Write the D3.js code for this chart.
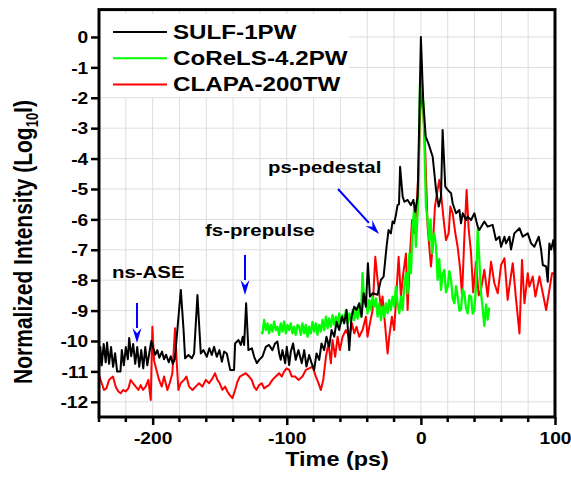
<!DOCTYPE html>
<html><head><meta charset="utf-8">
<script src="https://cdnjs.cloudflare.com/ajax/libs/d3/7.8.5/d3.min.js"></script>
<style>
body{margin:0;background:#fff;}
svg{display:block;}
text{font-family:"Liberation Sans",Arial,sans-serif;font-weight:bold;fill:#000;}
</style>
</head><body>
<svg id="c" width="571" height="478"></svg>
<script>
// ---- data (time in ps, log10 intensity) ----
const sulf = [[-240,-10.9],[-239,-10.2],[-238,-10.8],[-236.5,-10.1],[-235,-10.7],[-234,-10.05],[-232.5,-10.75],[-231,-10.2],[-229.5,-10.85],[-228,-10.4],[-226.5,-11.0],[-224,-11.0],[-223,-10.3],[-221.5,-10.8],[-220,-10.2],[-218.5,-10.6],[-217.5,-9.9],[-216,-10.5],[-214.5,-10.1],[-213,-10.75],[-211.5,-10.2],[-210,-10.85],[-208.5,-10.3],[-207,-10.9],[-205.5,-10.2],[-204,-10.8],[-202.5,-10.4],[-201,-10.0],[-199.5,-10.25],[-198,-10.45],[-196.5,-10.3],[-195,-10.55],[-193,-10.35],[-191.5,-10.6],[-190,-10.45],[-188,-10.7],[-186.5,-10.5],[-185,-10.75],[-183.5,-10.6],[-181.5,-9.6],[-179,-8.32],[-177,-9.6],[-175.8,-10.57],[-173.3,-10.46],[-170.8,-10.57],[-169.1,-10.41],[-166.6,-8.49],[-164.1,-10.41],[-162.1,-10.3],[-159.6,-10.52],[-157.7,-10.24],[-155.9,-10.46],[-154.2,-10.19],[-152.2,-10.52],[-150.2,-10.3],[-148.4,-10.68],[-146.7,-10.35],[-144.7,-10.41],[-142.2,-10.95],[-139.3,-10.95],[-138.5,-10.08],[-136,-9.97],[-134.3,-10.13],[-132.8,-9.86],[-131.8,-10.13],[-130.3,-8.76],[-128.6,-10.3],[-126,-10.24],[-124.3,-10.52],[-122.3,-10.73],[-120.6,-10.62],[-118.1,-10.51],[-115.6,-10.19],[-113.2,-10.13],[-110.7,-10.3],[-108.7,-10.08],[-107,-10.02],[-105.7,-10.4],[-104.5,-10.62],[-103.2,-10.3],[-101.2,-10.73],[-100,-10.19],[-98.2,-10.79],[-97,-10.35],[-95.3,-10.08],[-93.3,-10.62],[-91.3,-10.3],[-88.8,-10.73],[-87,-10.3],[-85.3,-10.84],[-83.3,-10.46],[-81.5,-10.73],[-79.6,-10.95],[-77.8,-10.41],[-75.8,-10.62],[-74.1,-10.08],[-72.1,-10.3],[-70.4,-9.86],[-68.4,-10.19],[-66.6,-9.64],[-64.6,-9.86],[-62.9,-9.37],[-60.9,-9.64],[-58.9,-9.2],[-57.2,-9.42],[-55.4,-8.98],[-53.4,-10.3],[-51.7,-9.2],[-49.7,-8.87],[-48,-8.98],[-46,-8.76],[-44.2,-9.2],[-42.7,-8.43],[-41,-8.87],[-39.5,-7.44],[-38,-8.54],[-36,-8.43],[-32.3,-8.48],[-29.8,-7.99],[-27.8,-7.88],[-25.6,-6.9],[-24.1,-6.35],[-22.4,-6.46],[-21.1,-6.07],[-19.9,-6.13],[-18.6,-5.85],[-17.4,-5.53],[-16.3,-5.5],[-15.5,-4.27],[-13.6,-5.25],[-12.3,-5.42],[-9.9,-5.36],[-7.4,-5.53],[-5.6,-5.36],[-4.2,-5.75],[-2.4,-5.25],[-1.2,-2.73],[0,0],[1.7,-2.07],[3.6,-3.28],[5.6,-3.5],[8.8,-3.94],[11.3,-5.03],[13.3,-5.58],[15,-5.25],[16.2,-3.06],[18.2,-4.92],[20,-5.03],[22.5,-5.14],[23.7,-5.47],[26.2,-5.8],[28.7,-5.69],[29.9,-6.13],[31.2,-5.8],[33.7,-6.02],[34.9,-5.91],[37.4,-6.02],[39.9,-5.8],[42.4,-6.24],[43.6,-6.35],[47.3,-6.07],[49.8,-6.24],[53.5,-6.18],[56,-6.68],[58.5,-6.57],[59.8,-6.9],[62.3,-6.57],[63.5,-6.79],[66,-6.57],[67.2,-6.99],[69.7,-6.46],[73.5,-6.29],[75.9,-6.57],[79.7,-6.46],[82.2,-6.79],[84.6,-6.9],[87.9,-6.57],[89.6,-6.99],[90.9,-7.5],[93.4,-7.55],[94.6,-8.05],[95.8,-6.79],[97.1,-6.99],[98.8,-6.68],[100,-7.2]];

const corels = [[-119,-9.7],[-118.1,-9.75],[-116.9,-9.31],[-115.6,-9.64],[-114.4,-9.42],[-113.2,-9.75],[-111.9,-9.47],[-110.7,-9.69],[-109.4,-9.36],[-108.2,-9.64],[-107,-9.53],[-105.7,-9.8],[-104.5,-9.42],[-103.2,-9.69],[-102,-9.36],[-100.7,-9.75],[-99.5,-9.47],[-98.2,-9.64],[-97,-9.42],[-95.7,-9.75],[-94.5,-9.53],[-93.3,-9.8],[-92,-9.47],[-90.75,-9.53],[-89.5,-9.8],[-88.3,-9.42],[-87,-9.75],[-85.8,-9.47],[-84.5,-9.86],[-83.3,-9.53],[-82,-9.75],[-80.8,-9.37],[-79.6,-9.69],[-78.3,-9.42],[-77.1,-9.8],[-75.8,-9.47],[-74.6,-9.69],[-73.3,-9.31],[-72.1,-9.64],[-70.8,-9.2],[-69.6,-9.58],[-68.4,-9.26],[-67.1,-9.53],[-65.9,-9.15],[-64.6,-9.47],[-63.4,-9.2],[-62.1,-9.53],[-60.9,-9.09],[-59.6,-9.42],[-58.4,-9.15],[-57.2,-9.37],[-55.9,-8.98],[-54.7,-9.42],[-53.4,-9.09],[-52.2,-9.37],[-50.9,-8.98],[-49.7,-9.31],[-48.5,-8.93],[-47.2,-9.26],[-46,-8.87],[-44.7,-9.2],[-43.5,-7.77],[-42.2,-8.76],[-41,-8.54],[-39.8,-9.09],[-38.5,-8.65],[-37.3,-8.98],[-36,-8.54],[-34.8,-8.87],[-33.5,-8.6],[-32.3,-9.2],[-31.1,-8.76],[-29.8,-9.31],[-28.6,-8.87],[-27.3,-9.2],[-26.1,-8.76],[-24.8,-9.09],[-23.6,-8.65],[-22.4,-8.98],[-21.1,-8.54],[-19.9,-8.87],[-18.6,-8.21],[-17.4,-8.76],[-16.1,-9.09],[-14.9,-8.54],[-13.6,-8.98],[-12.4,-8.21],[-11.1,-7.77],[-9.9,-8.43],[-8.6,-7.12],[-7.4,-7.77],[-6.1,-6.24],[-4.9,-5.58],[-3.7,-6.9],[-2.4,-5.8],[-1.7,-4.7],[-0.7,-1.63],[0,-1.1],[1.8,-2.18],[2.8,-3.83],[3.8,-5.58],[5,-6.02],[6.3,-6.68],[7.2,-6.0],[8.3,-7.12],[9.2,-6.6],[10,-6.46],[11.3,-6.9],[12.5,-7.99],[13.7,-7.3],[15,-8.32],[16.2,-7.8],[17.5,-7.66],[18.7,-8.4],[20,-8.21],[21.2,-7.7],[22.5,-7.99],[23.7,-8.6],[25,-8.76],[26.2,-8.2],[27.4,-8.54],[28.7,-9.0],[29.9,-8.98],[31.1,-8.3],[32.4,-8.43],[33.6,-8.9],[34.9,-9.09],[36.1,-8.5],[37.4,-8.54],[38.6,-9.1],[39.9,-8.98],[41.1,-8.2],[42.4,-6.3],[43.6,-7.34],[44.8,-8.4],[46,-8.9],[47.3,-9.5],[48.6,-8.8],[49.8,-9.3],[51,-8.9]];

const clapa = [[-240,-11.12],[-238,-11.39],[-236.3,-11.61],[-234.5,-11.56],[-232.5,-11.28],[-231.3,-11.23],[-229.6,-11.17],[-227.6,-11.5],[-225.6,-11.66],[-223.8,-11.72],[-222.1,-11.61],[-220.1,-11.66],[-218.1,-11.56],[-216.4,-11.28],[-214.6,-11.39],[-212.6,-11.5],[-210.6,-11.61],[-208.9,-11.45],[-207.2,-11.61],[-205.2,-11.5],[-203.2,-11.28],[-201.4,-11.94],[-200.2,-9.53],[-199,-10.63],[-197.2,-10.95],[-195.2,-11.28],[-193.2,-11.5],[-191.5,-11.17],[-189,-11.61],[-187.3,-11.39],[-185.3,-11.06],[-183.3,-9.58],[-182,-10.73],[-180.8,-11.61],[-179.1,-11.39],[-176.6,-11.28],[-174.8,-11.17],[-172.8,-11.5],[-170.3,-11.61],[-167.9,-11.5],[-165.4,-11.39],[-162.9,-11.5],[-160.4,-11.28],[-157.9,-11.39],[-155.4,-11.23],[-153.5,-11.06],[-151.7,-11.28],[-150,-11.39],[-148,-11.61],[-146,-11.5],[-144.3,-11.66],[-142.5,-11.78],[-140.5,-11.88],[-138.5,-11.61],[-136.8,-11.34],[-135,-11.17],[-133,-11.12],[-130.6,-11.06],[-128.1,-11.17],[-126.1,-11.28],[-124.4,-11.5],[-122.6,-11.61],[-120.6,-11.45],[-118.6,-11.39],[-116.9,-11.56],[-115.2,-11.5],[-113.2,-11.45],[-110.7,-11.28],[-108.2,-11.17],[-105.7,-11.06],[-103.7,-11.17],[-102,-11.01],[-100.2,-10.9],[-98.2,-10.95],[-96.2,-11.17],[-93.8,-11.17],[-91.3,-11.28],[-88.3,-11.17],[-85.8,-10.95],[-83.3,-10.9],[-80.8,-10.84],[-78.3,-11.17],[-76.3,-11.39],[-74.6,-11.61],[-72.8,-11.28],[-70.8,-10.52],[-68.9,-10.08],[-67.1,-10.73],[-65.9,-9.97],[-63.9,-10.52],[-62.1,-9.86],[-60.4,-10.3],[-58.4,-9.86],[-55.9,-9.64],[-53.4,-9.86],[-51.4,-9.42],[-49.7,-9.75],[-48,-9.53],[-46,-9.86],[-43.5,-9.64],[-41,-9.2],[-39.8,-9.86],[-38,-9.42],[-36,-8.98],[-34,-7.23],[-32.3,-7.99],[-31.1,-8.43],[-29.8,-8.87],[-28.6,-8.54],[-26.6,-9.53],[-24.8,-10.41],[-23.6,-9.86],[-21.6,-9.2],[-19.9,-9.64],[-18.1,-8.32],[-16.6,-7.23],[-14.9,-8.54],[-13.1,-7.77],[-11.1,-7.12],[-9.9,-8.98],[-8.1,-7.12],[-6.6,-6.02],[-4.9,-6.46],[-3.2,-5.58],[-1.7,-4.37],[-0.7,-2.73],[0.5,-1.6],[2.1,-2.73],[3.3,-3.83],[5,-6.24],[7.5,-7.55],[8.8,-6.9],[10.5,-5.58],[12,-5.14],[13.75,-4.7],[15.5,-5.36],[17,-6.02],[18.7,-6.68],[20.7,-6.46],[22,-5.58],[23.7,-5.8],[25.7,-6.46],[27.4,-6.9],[29.2,-7.6],[30.7,-8.5],[32.4,-6.6],[34.1,-5.03],[35.6,-6.3],[37.4,-7.1],[39,-8.4],[41.1,-7.4],[43.1,-8.5],[44.8,-8.32],[47.3,-7.66],[49.8,-8.54],[52.3,-7.39],[54.8,-8.1],[57.3,-8.43],[59.8,-7.5],[62.3,-7.28],[64.7,-8.65],[66,-8.21],[68.5,-7.44],[71,-8.65],[73.5,-9.75],[75.4,-7.34],[77.2,-8.76],[79.7,-7.77],[80.9,-8.21],[83.4,-7.88],[85.4,-8.54],[88.4,-7.88],[90.9,-8.43],[93.4,-8.98],[95.8,-8.32],[97.8,-7.77],[99.6,-7.77],[100,-9.4]];

const seriesNames = ["SULF-1PW", "CoReLS-4.2PW", "CLAPA-200TW"];
const seriesColors = ["#000000", "#00ff00", "#ff0000"];
const xTickValues = [-200, -100, 0, 100];
const xMinorValues = [-240, -220, -180, -160, -140, -120, -80, -60, -40, -20, 20, 40, 60, 80];
const yTickValues = [0, -1, -2, -3, -4, -5, -6, -7, -8, -9, -10, -11, -12];
const annotationLabels = ["ns-ASE", "fs-prepulse", "ps-pedestal"];
const xTitle = "Time (ps)";

// ---- drawing ----
const svg = d3.select("#c");
const SX = 1.2; // horizontal glyph stretch of the reference
const x = d3.scaleLinear().domain([-240, 100]).range([99, 555]);
const y = d3.scaleLinear().domain([-12.5, 0.9]).range([417, 9.6]);
const fmt = d => (d < 0 ? "-" : "") + Math.abs(d);

function label(g, str, px, py, size, anchor, sx) {
  return g.append("text")
    .attr("transform", `translate(${px},${py}) scale(${sx || SX},1)`)
    .attr("text-anchor", anchor || "start")
    .attr("font-size", size)
    .text(str);
}

// grid
const grid = svg.append("g").attr("stroke", "#dedede").attr("stroke-width", 1);
const gridX = xMinorValues.concat(xTickValues).filter(v => v > -240 && v < 100);
grid.selectAll("line.gx").data(gridX).join("line")
  .attr("x1", d => x(d)).attr("x2", d => x(d)).attr("y1", y(0.9)).attr("y2", y(-12.5));
grid.selectAll("line.gy").data(yTickValues).join("line")
  .attr("y1", d => y(d)).attr("y2", d => y(d)).attr("x1", x(-240)).attr("x2", x(100));

// legend background
svg.append("rect").attr("x", 101).attr("y", 14).attr("width", 248).attr("height", 83).attr("fill", "#fff");

// series
const line = d3.line().x(d => x(d[0])).y(d => y(d[1]));
const data = [sulf, corels, clapa];
const order = [2, 1, 0];
order.forEach(i => {
  svg.append("path").datum(data[i]).attr("fill", "none")
    .attr("stroke", seriesColors[i]).attr("stroke-width", i === 1 ? 2.3 : 2)
    .attr("stroke-linejoin", "round").attr("d", line);
});

// axes
const ax = svg.append("g").attr("transform", `translate(0,${y(-12.5)})`)
  .call(d3.axisBottom(x).tickValues(xTickValues).tickSize(8).tickSizeOuter(0).tickFormat(fmt));
ax.select(".domain").remove();
ax.selectAll(".tick line").attr("stroke-width", 2.5);
ax.selectAll(".tick text").attr("font-size", 16).attr("y", 27).attr("dy", null)
  .attr("transform", `scale(${SX},1)`).attr("x", 0);
svg.append("g").selectAll("line").data(xMinorValues).join("line")
  .attr("x1", d => x(d)).attr("x2", d => x(d)).attr("y1", y(-12.5)).attr("y2", y(-12.5) + 5)
  .attr("stroke", "#000").attr("stroke-width", 2.5);

const ay = svg.append("g").attr("transform", `translate(${x(-240)},0)`)
  .call(d3.axisLeft(y).tickValues(yTickValues).tickSize(8).tickSizeOuter(0).tickFormat(fmt));
ay.select(".domain").remove();
ay.selectAll(".tick line").attr("stroke-width", 2.5);
ay.selectAll(".tick text").attr("font-size", 16).attr("x", -9).attr("dy", "0.36em")
  .attr("transform", `scale(${SX},1)`);
ay.selectAll("text").attr("font-family", null).attr("fill", "#000");
ax.selectAll("text").attr("font-family", null).attr("fill", "#000");

// frame
svg.append("rect").attr("x", x(-240)).attr("y", y(0.9))
  .attr("width", x(100) - x(-240)).attr("height", y(-12.5) - y(0.9))
  .attr("fill", "none").attr("stroke", "#000").attr("stroke-width", 3);

// legend
seriesNames.forEach((n, i) => {
  const ly = 32 + i * 26.3;
  svg.append("line").attr("x1", 113).attr("x2", 167).attr("y1", ly).attr("y2", ly)
    .attr("stroke", seriesColors[i]).attr("stroke-width", 2);
  label(svg, n, 173, ly + 6.5, 19.5, "start", 1.24);
});

// axis titles
label(svg, xTitle, 337, 466, 19.5, "middle");
const yt = svg.append("text")
  .attr("transform", `translate(32,242) scale(${SX},1) rotate(-90)`)
  .attr("text-anchor", "middle").attr("font-size", 21);
yt.append("tspan").text("Normalized Intensity (Log");
yt.append("tspan").attr("font-size", 13).attr("dy", 5).text("10");
yt.append("tspan").attr("dy", -5).text("I)");

// annotations
label(svg, annotationLabels[0], 112, 278, 17);
label(svg, annotationLabels[1], 205, 236, 17);
label(svg, annotationLabels[2], 268, 173, 17);

function arrow(x1, y1, x2, y2) {
  const a = Math.atan2(y2 - y1, x2 - x1), L = 15, w = 4.5;
  const bx = x2 - L * Math.cos(a), by = y2 - L * Math.sin(a);
  svg.append("line").attr("x1", x1).attr("y1", y1).attr("x2", bx).attr("y2", by)
    .attr("stroke", "#0000ff").attr("stroke-width", 2);
  const p = [[x2, y2], [bx + w * Math.sin(a), by - w * Math.cos(a)], [bx + 0.35 * L * Math.cos(a), by + 0.35 * L * Math.sin(a)], [bx - w * Math.sin(a), by + w * Math.cos(a)]];
  svg.append("polygon").attr("points", p.map(q => q.join(",")).join(" ")).attr("fill", "#0000ff");
}
arrow(137, 303, 137, 343);
arrow(245, 255, 245, 295);
arrow(338, 189, 379, 234);
</script>
</body></html>
